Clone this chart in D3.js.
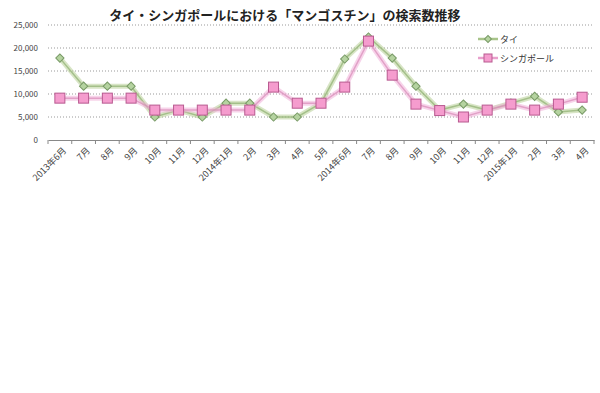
<!DOCTYPE html>
<html><head><meta charset="utf-8">
<script src="https://cdn.jsdelivr.net/npm/d3@7"></script>
<style>body{margin:0;background:#fff;} text{font-family:"Noto Sans CJK JP","Noto Sans",sans-serif;}</style>
</head><body>
<svg id="c" width="600" height="393"></svg>
<script>
const categories = ["2013年6月","7月","8月","9月","10月","11月","12月","2014年1月","2月","3月","4月","5月","2014年6月","7月","8月","9月","10月","11月","12月","2015年1月","2月","3月","4月"];
const thai = [17800,11700,11700,11700,5000,6500,5000,8000,8000,5000,5000,8000,17600,22400,17800,11700,6500,7800,6500,8000,9500,6100,6500];
const singapore = [9100,9100,9100,9100,6500,6500,6500,6500,6500,11500,8000,8000,11500,21500,14100,7800,6400,5000,6500,7800,6500,7800,9300];
const yTicks = [0,5000,10000,15000,20000,25000];
const seriesNames = ["タイ","シンガポール"];

const svg = d3.select("#c");
const x = d3.scaleBand().domain(d3.range(categories.length)).range([48,594]);
const y = d3.scaleLinear().domain([0,25000]).range([140,25]);

svg.append("text").attr("x",285).attr("y",20).attr("text-anchor","middle")
  .attr("font-size",13).attr("font-weight","bold").attr("fill","#222")
  .text("タイ・シンガポールにおける「マンゴスチン」の検索数推移");

svg.append("g").selectAll("line").data(yTicks.filter(d=>d>0)).join("line")
  .attr("x1",48).attr("x2",594).attr("y1",d=>y(d)).attr("y2",d=>y(d))
  .attr("stroke","#999").attr("stroke-dasharray","1,2");
svg.append("g").selectAll("text").data(yTicks).join("text")
  .attr("x",38).attr("y",d=>y(d)+3).attr("text-anchor","end")
  .attr("font-size",8).attr("fill","#444").text(d3.format(","));
const xa = svg.append("g").attr("transform","translate(0,140)")
  .call(d3.axisBottom(x).tickSize(0).tickFormat(i=>categories[i]));
xa.select(".domain").attr("stroke","#888");
xa.selectAll(".tick text").attr("font-size",9).attr("fill","#444")
  .attr("text-anchor","end").attr("dx",0).attr("dy",0)
  .attr("transform","translate(5,9) rotate(-45)");
svg.append("g").selectAll("line").data(d3.range(categories.length+1)).join("line")
  .attr("x1",i=>48+i*x.step()).attr("x2",i=>48+i*x.step()).attr("y1",140).attr("y2",144)
  .attr("stroke","#888");

const cx = i=>x(i)+x.bandwidth()/2;
const line = d3.line().x((d,i)=>cx(i)).y(d=>y(d));

function drawSeries(data, halo, col){
  svg.append("path").attr("d",line(data)).attr("fill","none")
    .attr("stroke",halo).attr("stroke-width",5).attr("stroke-opacity",0.55).attr("stroke-linejoin","round");
  svg.append("path").attr("d",line(data)).attr("fill","none")
    .attr("stroke",col).attr("stroke-width",1.5).attr("stroke-opacity",0.7);
}
drawSeries(thai,"#b8cf98","#8fb070");
drawSeries(singapore,"#f0b0d8","#d88ab8");

const diamond = d3.symbol(d3.symbolSquare,34)();
svg.append("g").selectAll("path").data(thai).join("path")
  .attr("d",diamond)
  .attr("transform",(d,i)=>`translate(${cx(i)},${y(d)}) rotate(45)`)
  .attr("fill","#b5d3a0").attr("stroke","#789a66").attr("stroke-width",1);
svg.append("g").selectAll("rect").data(singapore).join("rect")
  .attr("x",(d,i)=>cx(i)-5).attr("y",d=>y(d)-5).attr("width",10).attr("height",10)
  .attr("fill","#f59cce").attr("stroke","#b85a90").attr("stroke-width",1);

const lg = svg.append("g");
[0,1].forEach(k=>{
  const ly = k===0?39:58;
  lg.append("line").attr("x1",478).attr("x2",498).attr("y1",ly).attr("y2",ly)
    .attr("stroke",k===0?"#a8c48a":"#e8a0cc").attr("stroke-width",2.5);
  if(k===0){
    lg.append("path").attr("d",d3.symbol(d3.symbolSquare,24)()).attr("transform",`translate(488,${ly}) rotate(45)`)
      .attr("fill","#b5d3a0").attr("stroke","#789a66");
  } else {
    lg.append("rect").attr("x",484).attr("y",ly-4).attr("width",8).attr("height",8)
      .attr("fill","#f59cce").attr("stroke","#b85a90");
  }
  lg.append("text").attr("x",500).attr("y",ly+3.5).attr("font-size",9).attr("fill","#333").text(seriesNames[k]);
});
</script>
</body></html>
